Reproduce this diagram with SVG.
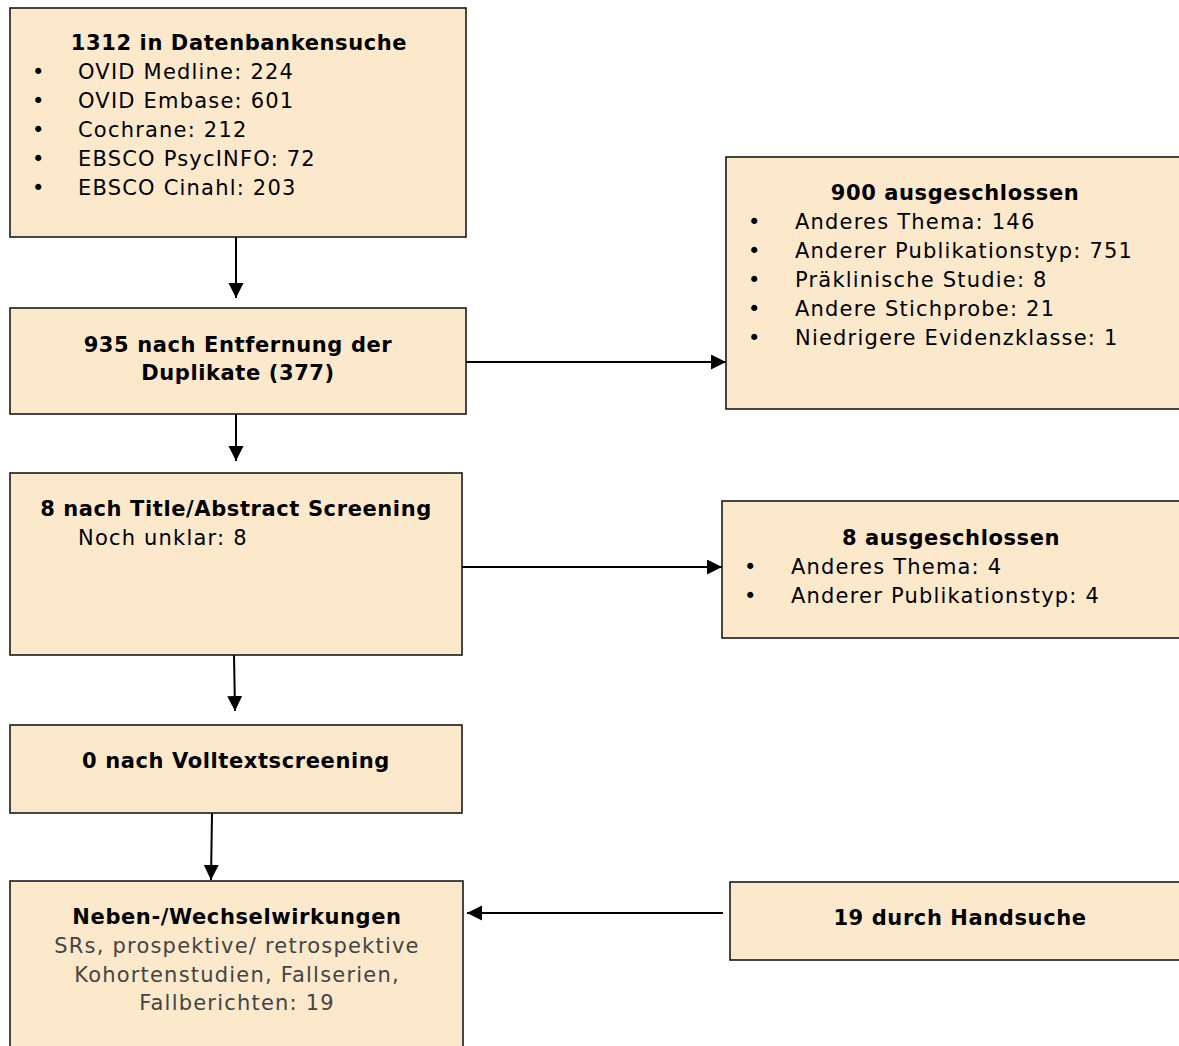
<svg xmlns="http://www.w3.org/2000/svg" width="1179" height="1046" viewBox="0 0 1179 1046">
<defs>
<style>
.box{fill:#FCE9CB;stroke:#1a1a1a;stroke-width:1.6}
text{font-family:"DejaVu Sans","Liberation Sans",sans-serif;font-size:21px;fill:#000;letter-spacing:1.2px}
.b{font-weight:bold;letter-spacing:0.6px}
.c{text-anchor:middle}
.g{fill:#444}
.ln{stroke:#000;stroke-width:2;fill:none}
</style>
<marker id="ah" markerWidth="16" markerHeight="16" refX="15" refY="7.5" orient="auto" markerUnits="userSpaceOnUse">
<path d="M0,0 L15,7.5 L0,15 Z" fill="#000"/>
</marker>
</defs>
<rect width="1179" height="1046" fill="#fff"/>
<g id="connectors">
<line class="ln" x1="236" y1="237" x2="236" y2="298" marker-end="url(#ah)"/>
<line class="ln" x1="466" y1="362" x2="726" y2="362" marker-end="url(#ah)"/>
<line class="ln" x1="236" y1="414" x2="236" y2="461" marker-end="url(#ah)"/>
<line class="ln" x1="462" y1="567" x2="722" y2="567" marker-end="url(#ah)"/>
<line class="ln" x1="234" y1="655" x2="235" y2="711" marker-end="url(#ah)"/>
<line class="ln" x1="212" y1="813" x2="211" y2="880" marker-end="url(#ah)"/>
<line class="ln" x1="723" y1="913" x2="467" y2="913" marker-end="url(#ah)"/>
</g>
<g id="n1">
<rect class="box" x="10" y="8" width="456" height="229"/>
<text class="b c" x="239" y="50">1312 in Datenbankensuche</text>
<text x="32" y="79">•</text><text x="78" y="79">OVID Medline: 224</text>
<text x="32" y="108">•</text><text x="78" y="108">OVID Embase: 601</text>
<text x="32" y="137">•</text><text x="78" y="137">Cochrane: 212</text>
<text x="32" y="166">•</text><text x="78" y="166">EBSCO PsycINFO: 72</text>
<text x="32" y="195">•</text><text x="78" y="195">EBSCO Cinahl: 203</text>
</g>
<g id="n2">
<rect class="box" x="10" y="308" width="456" height="106"/>
<text class="b c" x="238" y="352">935 nach Entfernung der</text>
<text class="b c" x="238" y="380">Duplikate (377)</text>
</g>
<g id="n3">
<rect class="box" x="10" y="473" width="452" height="182"/>
<text class="b c" x="236" y="516">8 nach Title/Abstract Screening</text>
<text x="78" y="545">Noch unklar: 8</text>
</g>
<g id="n4">
<rect class="box" x="10" y="725" width="452" height="88"/>
<text class="b c" x="236" y="768">0 nach Volltextscreening</text>
</g>
<g id="n5">
<rect class="box" x="10" y="881" width="453" height="175"/>
<text class="b c" x="237" y="924">Neben-/Wechselwirkungen</text>
<text class="c g" x="237" y="953">SRs, prospektive/ retrospektive</text>
<text class="c g" x="237" y="982">Kohortenstudien, Fallserien,</text>
<text class="c g" x="237" y="1010">Fallberichten: 19</text>
</g>
<g id="nA">
<rect class="box" x="726" y="157" width="463" height="252"/>
<text class="b c" x="955" y="200">900 ausgeschlossen</text>
<text x="748" y="229">•</text><text x="795" y="229">Anderes Thema: 146</text>
<text x="748" y="258">•</text><text x="795" y="258">Anderer Publikationstyp: 751</text>
<text x="748" y="287">•</text><text x="795" y="287">Präklinische Studie: 8</text>
<text x="748" y="316">•</text><text x="795" y="316">Andere Stichprobe: 21</text>
<text x="748" y="345">•</text><text x="795" y="345">Niedrigere Evidenzklasse: 1</text>
</g>
<g id="nB">
<rect class="box" x="722" y="501" width="467" height="137"/>
<text class="b c" x="951" y="545">8 ausgeschlossen</text>
<text x="744" y="574">•</text><text x="791" y="574">Anderes Thema: 4</text>
<text x="744" y="603">•</text><text x="791" y="603">Anderer Publikationstyp: 4</text>
</g>
<g id="nC">
<rect class="box" x="730" y="882" width="459" height="78"/>
<text class="b c" x="960" y="925">19 durch Handsuche</text>
</g>
</svg>
